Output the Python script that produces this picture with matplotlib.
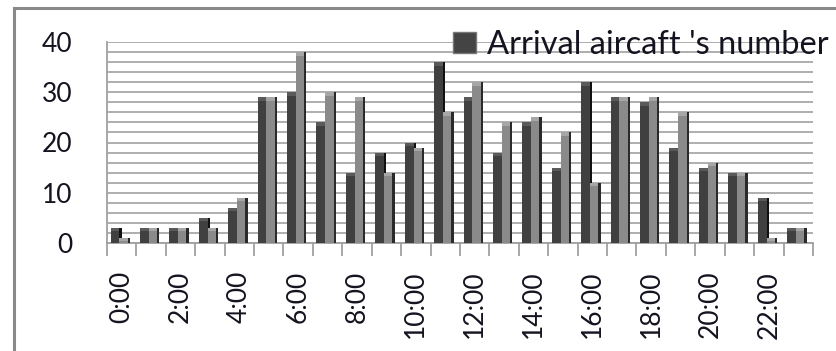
import numpy as np
import matplotlib.pyplot as plt
from matplotlib.patches import Patch
from matplotlib.lines import Line2D

# hourly arrivals, two columns per hour (first / second half)
hours = [f"{h}:00" for h in range(24)]
first_half = [3, 3, 3, 5, 7, 29, 30, 24, 14, 18, 20, 36,
              29, 18, 24, 15, 32, 29, 28, 19, 15, 14, 9, 3]
second_half = [1, 3, 3, 3, 9, 29, 38, 30, 29, 14, 19, 26,
               32, 24, 25, 22, 12, 29, 29, 26, 16, 14, 1, 3]
series_name = "Arrival aircaft 's number"
y_ticks = [0, 10, 20, 30, 40]

plt.rcParams['font.family'] = ['Lato', 'DejaVu Sans']
text_color = '#141420'

fig = plt.figure(figsize=(8.37, 3.51), dpi=100)
ax = fig.add_axes([107 / 837, 1 - 243 / 351, (813 - 107) / 837, (243 - 42) / 351])

x = np.arange(len(hours))

# back column: front face and dark side face
ax.bar(x + 0.12, first_half, width=0.30, align='edge', color='#404040', zorder=3)
ax.bar(x + 0.42, first_half, width=0.08, align='edge', color='#111111', zorder=3)
# front column covers the side of the back one
ax.bar(x + 0.42, second_half, width=0.28, align='edge', color='#8a8a8a', zorder=4)
ax.bar(x + 0.70, second_half, width=0.08, align='edge', color='#2a2a2a', zorder=4)
# lighter caps on top of each column
ax.bar(x + 0.12, [0.7] * len(x), bottom=np.array(first_half) - 0.7, width=0.30,
       align='edge', color='#5a5a5a', zorder=3)
ax.bar(x + 0.42, [0.7] * len(x), bottom=np.array(second_half) - 0.7, width=0.28,
       align='edge', color='#a6a6a6', zorder=4)

ax.set_xlim(0, len(hours))
ax.set_ylim(0, 40)

ax.set_yticks(y_ticks)
ax.set_yticks(np.arange(0, 41, 2), minor=True)
ax.yaxis.grid(True, which='both', color='#a8a8a8', lw=1.3, zorder=0)
ax.tick_params(axis='y', which='both', length=0, pad=25, labelsize=19,
               labelcolor=text_color)

# labels every other hour, tick marks on the hour boundaries
ax.set_xticks(x[::2] + 0.5)
ax.set_xticklabels(hours[::2], rotation=90)
ax.set_xticks(np.arange(0, len(hours) + 1), minor=True)
ax.tick_params(axis='x', which='major', length=0, pad=20, labelsize=19,
               labelcolor=text_color)
ax.tick_params(axis='x', which='minor', length=9, width=1.3, color='#a0a0a0')

for side in ['top', 'right']:
    ax.spines[side].set_visible(False)
for side in ['left', 'bottom']:
    ax.spines[side].set_color('#a0a0a0')
    ax.spines[side].set_linewidth(1.3)

handle = Patch(facecolor='#444444', edgecolor='#777777')
ax.legend([handle], [series_name], loc='center right',
          bbox_to_anchor=(829 / 837, 1 - 45 / 351), bbox_transform=fig.transFigure,
          frameon=False, fontsize=23.5, handlelength=0.7, handleheight=0.65,
          handletextpad=0.35, borderpad=0, borderaxespad=0, labelcolor=text_color)

# chart border (left and top edges fall inside the image)
fig.add_artist(Line2D([14 / 837, 14 / 837], [0, 1 - 8 / 351],
                      transform=fig.transFigure, color='#8a8a8a', lw=2.2))
fig.add_artist(Line2D([14 / 837, 1], [1 - 8 / 351, 1 - 8 / 351],
                      transform=fig.transFigure, color='#8a8a8a', lw=2.2))

fig.savefig('out.png', dpi=100)
